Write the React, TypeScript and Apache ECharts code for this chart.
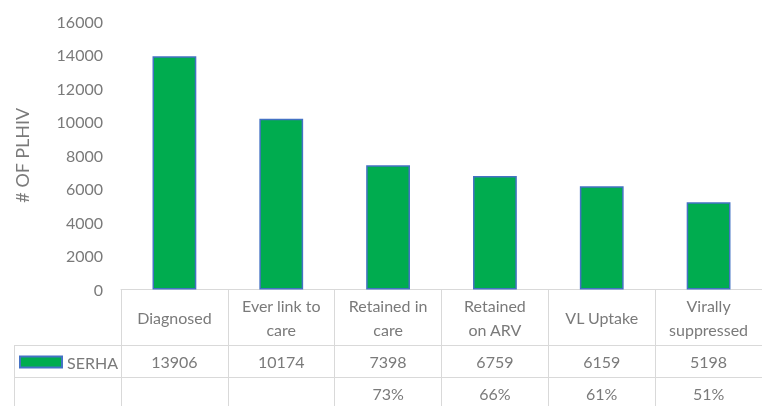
import React, { useEffect, useRef } from "react";
import * as echarts from "echarts";

const categories = [
  "Diagnosed",
  "Ever link to\ncare",
  "Retained in\ncare",
  "Retained\non ARV",
  "VL Uptake",
  "Virally\nsuppressed",
];
const seriesName = "SERHA";
const values = [13906, 10174, 7398, 6759, 6159, 5198];
const percents: (number | null)[] = [null, null, 73, 66, 61, 51];
const yTicks = { min: 0, max: 16000, interval: 2000 };

const FONT = "Lato";
const TEXT = "#7a7a7a";
const LINE = "#d9d9d9";
const GREEN = "#00ac4f";
const BLUE = "#4472c4";

export default function App() {
  const ref = useRef<HTMLDivElement>(null);
  useEffect(() => {
    if (!ref.current) return;
    const chart = echarts.init(ref.current, undefined, { renderer: "svg" });
    const baseX = {
      type: "category" as const,
      position: "bottom" as const,
      gridIndex: 0,
      boundaryGap: true,
      axisLine: { show: true, lineStyle: { color: LINE, width: 1 } },
      axisTick: { show: true, inside: false, alignWithLabel: false, lineStyle: { color: LINE, width: 1 } },
      axisLabel: {
        interval: 0,
        color: TEXT,
        fontFamily: FONT,
        fontSize: 16,
        lineHeight: 24,
        verticalAlign: "middle" as const,
        align: "center" as const,
      },
      splitLine: { show: false },
    };
    chart.setOption({
      animation: false,
      textStyle: { fontFamily: FONT },
      grid: { left: 121, top: 21, width: 651, height: 268.5, containLabel: false },
      legend: {
        data: [seriesName],
        left: 14,
        top: 349,
        itemWidth: 42,
        itemHeight: 11,
        itemGap: 4,
        icon: "rect",
        textStyle: { color: TEXT, fontFamily: FONT, fontSize: 16 },
        selectedMode: false,
      },
      xAxis: [
        {
          ...baseX,
          data: categories,
          axisTick: { ...baseX.axisTick, length: 56 },
          axisLabel: { ...baseX.axisLabel, margin: 28 },
        },
        {
          ...baseX,
          offset: 56,
          data: values.map((v) => String(v)),
          axisTick: { ...baseX.axisTick, length: 32 },
          axisLabel: { ...baseX.axisLabel, margin: 16 },
        },
        {
          ...baseX,
          offset: 88,
          data: percents.map((p) => (p == null ? "" : p + "%")),
          axisTick: { ...baseX.axisTick, length: 40 },
          axisLabel: { ...baseX.axisLabel, margin: 16 },
        },
      ],
      yAxis: {
        type: "value",
        min: yTicks.min,
        max: yTicks.max,
        interval: yTicks.interval,
        name: "# OF PLHIV",
        nameLocation: "middle",
        nameRotate: 90,
        nameGap: 90,
        nameTextStyle: { color: TEXT, fontFamily: FONT, fontSize: 18 },
        axisLine: { show: false },
        axisTick: { show: false },
        splitLine: { show: false },
        axisLabel: {
          color: TEXT,
          fontFamily: FONT,
          fontSize: 16,
          margin: 18,
          formatter: (v: number) => String(v),
        },
      },
      series: [
        {
          name: seriesName,
          type: "bar",
          xAxisIndex: 0,
          data: values,
          barWidth: "41%",
          itemStyle: { color: GREEN, borderColor: BLUE, borderWidth: 1.5 },
        },
      ],
      graphic: [
        { type: "line", shape: { x1: 14, y1: 345.5, x2: 121, y2: 345.5 }, style: { stroke: LINE, lineWidth: 1 } },
        { type: "line", shape: { x1: 14, y1: 377.5, x2: 121, y2: 377.5 }, style: { stroke: LINE, lineWidth: 1 } },
        { type: "line", shape: { x1: 14.5, y1: 345, x2: 14.5, y2: 410 }, style: { stroke: LINE, lineWidth: 1 } },
      ],
    });
    return () => chart.dispose();
  }, []);
  return <div ref={ref} style={{ position: "fixed", left: 0, top: 0, width: 762, height: 406 }} />;
}
